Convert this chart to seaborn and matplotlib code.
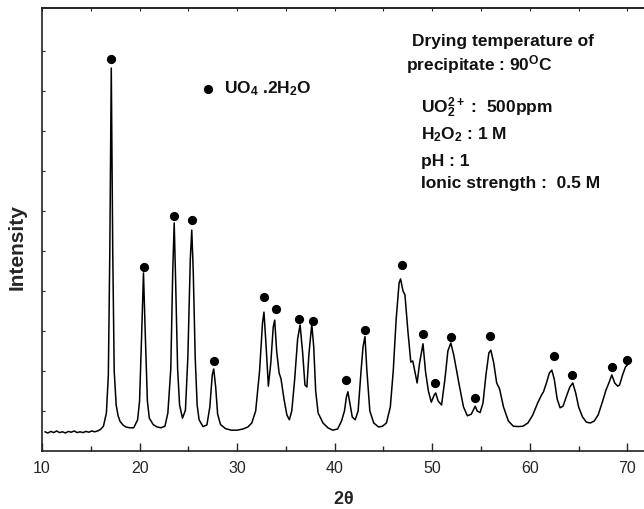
import numpy as np
import pandas as pd
import matplotlib
matplotlib.use("Agg")
import matplotlib.pyplot as plt
import seaborn as sns
from matplotlib.ticker import MultipleLocator

# ---------------------------------------
# Data (2theta, intensity in arbitrary units)
# ---------------------------------------
two_theta = [
    10.3, 10.6, 10.9, 11.2, 11.5, 11.8, 12.1, 12.4, 12.7, 13.0, 13.3, 13.6,
    13.9, 14.2, 14.5, 14.8, 15.1, 15.4, 15.7, 16.0, 16.3, 16.6, 16.8, 16.95,
    17.1, 17.25, 17.4, 17.6, 17.8, 18.0, 18.3, 18.6, 19.0, 19.4, 19.8, 20.0,
    20.2, 20.4, 20.6, 20.8, 21.0, 21.4, 21.8, 22.2, 22.6, 22.9, 23.2, 23.4,
    23.55, 23.7, 23.9, 24.1, 24.4, 24.7, 24.95, 25.2, 25.35, 25.5, 25.7, 25.9,
    26.1, 26.5, 26.9, 27.2, 27.45, 27.6, 27.8, 28.0, 28.3, 28.8, 29.4, 30.0,
    30.6, 31.1, 31.5, 31.9, 32.3, 32.6, 32.75, 32.95, 33.2, 33.45, 33.7, 33.85,
    34.05, 34.3, 34.5, 34.8, 35.1, 35.35, 35.6, 35.9, 36.2, 36.45, 36.7, 36.95,
    37.15, 37.35, 37.65, 37.85, 38.05, 38.3, 38.8, 39.3, 39.8, 40.3, 40.7, 41.0,
    41.2, 41.35, 41.55, 41.8, 42.1, 42.4, 42.7, 42.9, 43.1, 43.3, 43.6, 44.0,
    44.5, 44.9, 45.3, 45.7, 46.0, 46.3, 46.6, 46.75, 47.0, 47.2, 47.5, 47.8,
    48.0, 48.2, 48.45, 48.7, 49.05, 49.3, 49.6, 49.9, 50.2, 50.35, 50.6, 50.95,
    51.3, 51.6, 51.9, 52.2, 52.5, 52.8, 53.2, 53.6, 54.0, 54.4, 54.6, 54.9,
    55.2, 55.5, 55.8, 56.0, 56.3, 56.6, 56.9, 57.3, 57.8, 58.3, 58.8, 59.3,
    59.8, 60.3, 60.8, 61.2, 61.4, 61.7, 62.0, 62.25, 62.5, 62.8, 63.1, 63.4,
    63.8, 64.1, 64.4, 64.7, 65.0, 65.4, 65.8, 66.2, 66.6, 67.0, 67.4, 67.8,
    68.1, 68.4, 68.7, 69.0, 69.2, 69.5, 69.8, 70.0,
]
intensity = [
    48, 45, 49, 46, 50, 46, 48, 45, 49, 47, 50, 46,
    48, 46, 49, 47, 50, 48, 50, 54, 62, 95, 190, 500,
    957, 500, 200, 115, 88, 74, 65, 60, 58, 58, 78, 125,
    280, 445, 280, 125, 82, 66, 60, 58, 62, 95, 205, 450,
    570, 420, 205, 115, 82, 102, 235, 480, 552, 450, 235, 115,
    78, 61, 65, 110, 190, 205, 160, 92, 66, 56, 52, 52,
    55, 60, 70, 100, 200, 320, 347, 270, 162, 220, 310, 327,
    250, 195, 180, 130, 90, 78, 100, 180, 280, 315, 250, 165,
    160, 240, 317, 260, 150, 95, 70, 58, 52, 55, 75, 100,
    135, 148, 120, 85, 78, 100, 200, 260, 286, 200, 100, 70,
    60, 62, 70, 110, 200, 330, 420, 430, 400, 390, 300, 222,
    225, 200, 170, 220, 268, 200, 150, 122, 140, 145, 125, 115,
    180, 250, 270, 240, 200, 160, 110, 88, 92, 112, 100, 96,
    120, 190, 245, 252, 220, 170, 155, 110, 75, 62, 61, 62,
    70, 90, 120, 140, 148, 170, 195, 202, 180, 130, 108, 112,
    140, 160, 170, 145, 110, 85, 72, 70, 75, 90, 120, 152,
    170, 190, 170, 162, 165, 190, 210, 215,
]

# peak markers (UO4.2H2O reflections)
dot_theta = [17.05, 20.48, 23.49, 25.34, 27.65, 32.8, 33.98, 36.36, 37.8, 41.2,
             43.06, 46.85, 49.1, 50.27, 51.87, 54.36, 55.9, 62.49, 64.33, 68.4, 70.0]
dot_int = [980, 461, 588, 578, 225, 384, 356, 331, 324, 178,
           302, 464, 292, 171, 286, 133, 288, 237, 190, 209, 228]

legend_dot_theta = [27.04]
legend_dot_int = [904]

x_ticks = [10, 20, 30, 40, 50, 60, 70]

df = pd.DataFrame({"two_theta": two_theta, "intensity": intensity})
dots = pd.DataFrame({"two_theta": dot_theta + legend_dot_theta,
                     "intensity": dot_int + legend_dot_int})

# ---------------------------------------
# Style
# ---------------------------------------
sns.set_style("ticks")
plt.rcParams["font.family"] = ["Liberation Sans", "DejaVu Sans"]
plt.rcParams["mathtext.fontset"] = "custom"
plt.rcParams["mathtext.rm"] = "Liberation Sans:bold"
plt.rcParams["mathtext.bf"] = "Liberation Sans:bold"
plt.rcParams["mathtext.it"] = "Liberation Sans:bold"
plt.rcParams["mathtext.default"] = "rm"

fig = plt.figure(figsize=(6.44, 5.09), dpi=100)
ax = fig.add_axes([42 / 644, 58 / 509, 1 - 42 / 644, (451 - 8) / 509])

sns.lineplot(data=df, x="two_theta", y="intensity", sort=False, estimator=None,
             color="black", linewidth=1.1, ax=ax)
sns.scatterplot(data=dots, x="two_theta", y="intensity", color="black",
                s=44, edgecolor="black", linewidth=0, ax=ax)

ax.set_xlim(10, 71.7)
ax.set_ylim(0, 1107)
ax.set_xticks(x_ticks)
ax.xaxis.set_minor_locator(MultipleLocator(5))
ax.set_yticks(np.arange(100, 1001, 100))
ax.set_yticklabels([])

ax.tick_params(axis="x", which="major", direction="in", length=6, width=1,
               labelsize=11.5, pad=7, top=False)
ax.tick_params(axis="x", which="minor", direction="in", length=3.5, width=1, top=False)
ax.tick_params(axis="y", which="major", direction="in", length=2.5, width=0.8)

top = ax.secondary_xaxis("top")
top.set_xticks(x_ticks)
top.xaxis.set_minor_locator(MultipleLocator(5))
top.set_xticklabels([])
top.tick_params(which="both", direction="in", length=2, width=0.8)

for side in ["left", "bottom", "top"]:
    ax.spines[side].set_linewidth(1.2)
    ax.spines[side].set_color("#222222")
top.spines["top"].set_linewidth(1.2)
top.spines["top"].set_color("#222222")
ax.spines["right"].set_visible(False)

ax.set_xlabel(r"2$\theta$", fontsize=13, fontweight="bold", labelpad=11)
ax.set_ylabel("Intensity", fontsize=15, fontweight="bold")
ax.yaxis.set_label_coords(-0.025, 0.46)

# ---------------------------------------
# Annotations
# ---------------------------------------
tkw = dict(fontsize=12.5, fontweight="bold", va="baseline", ha="left", color="#111111")
ax.text(28.65, 894, r"UO$_4$ .2H$_2$O", **tkw)
ax.text(47.9, 1012, "Drying temperature of", **tkw)
ax.text(47.26, 952, r"precipitate : 90$^\mathrm{O}$C", **tkw)
ax.text(48.8, 844, r"UO$_2^{2+}$ :  500ppm", **tkw)
ax.text(48.8, 780, r"H$_2$O$_2$ : 1 M", **tkw)
ax.text(48.8, 711, "pH : 1", **tkw)
ax.text(48.8, 657, "Ionic strength :  0.5 M", **tkw)

fig.savefig("out.png", dpi=100)
